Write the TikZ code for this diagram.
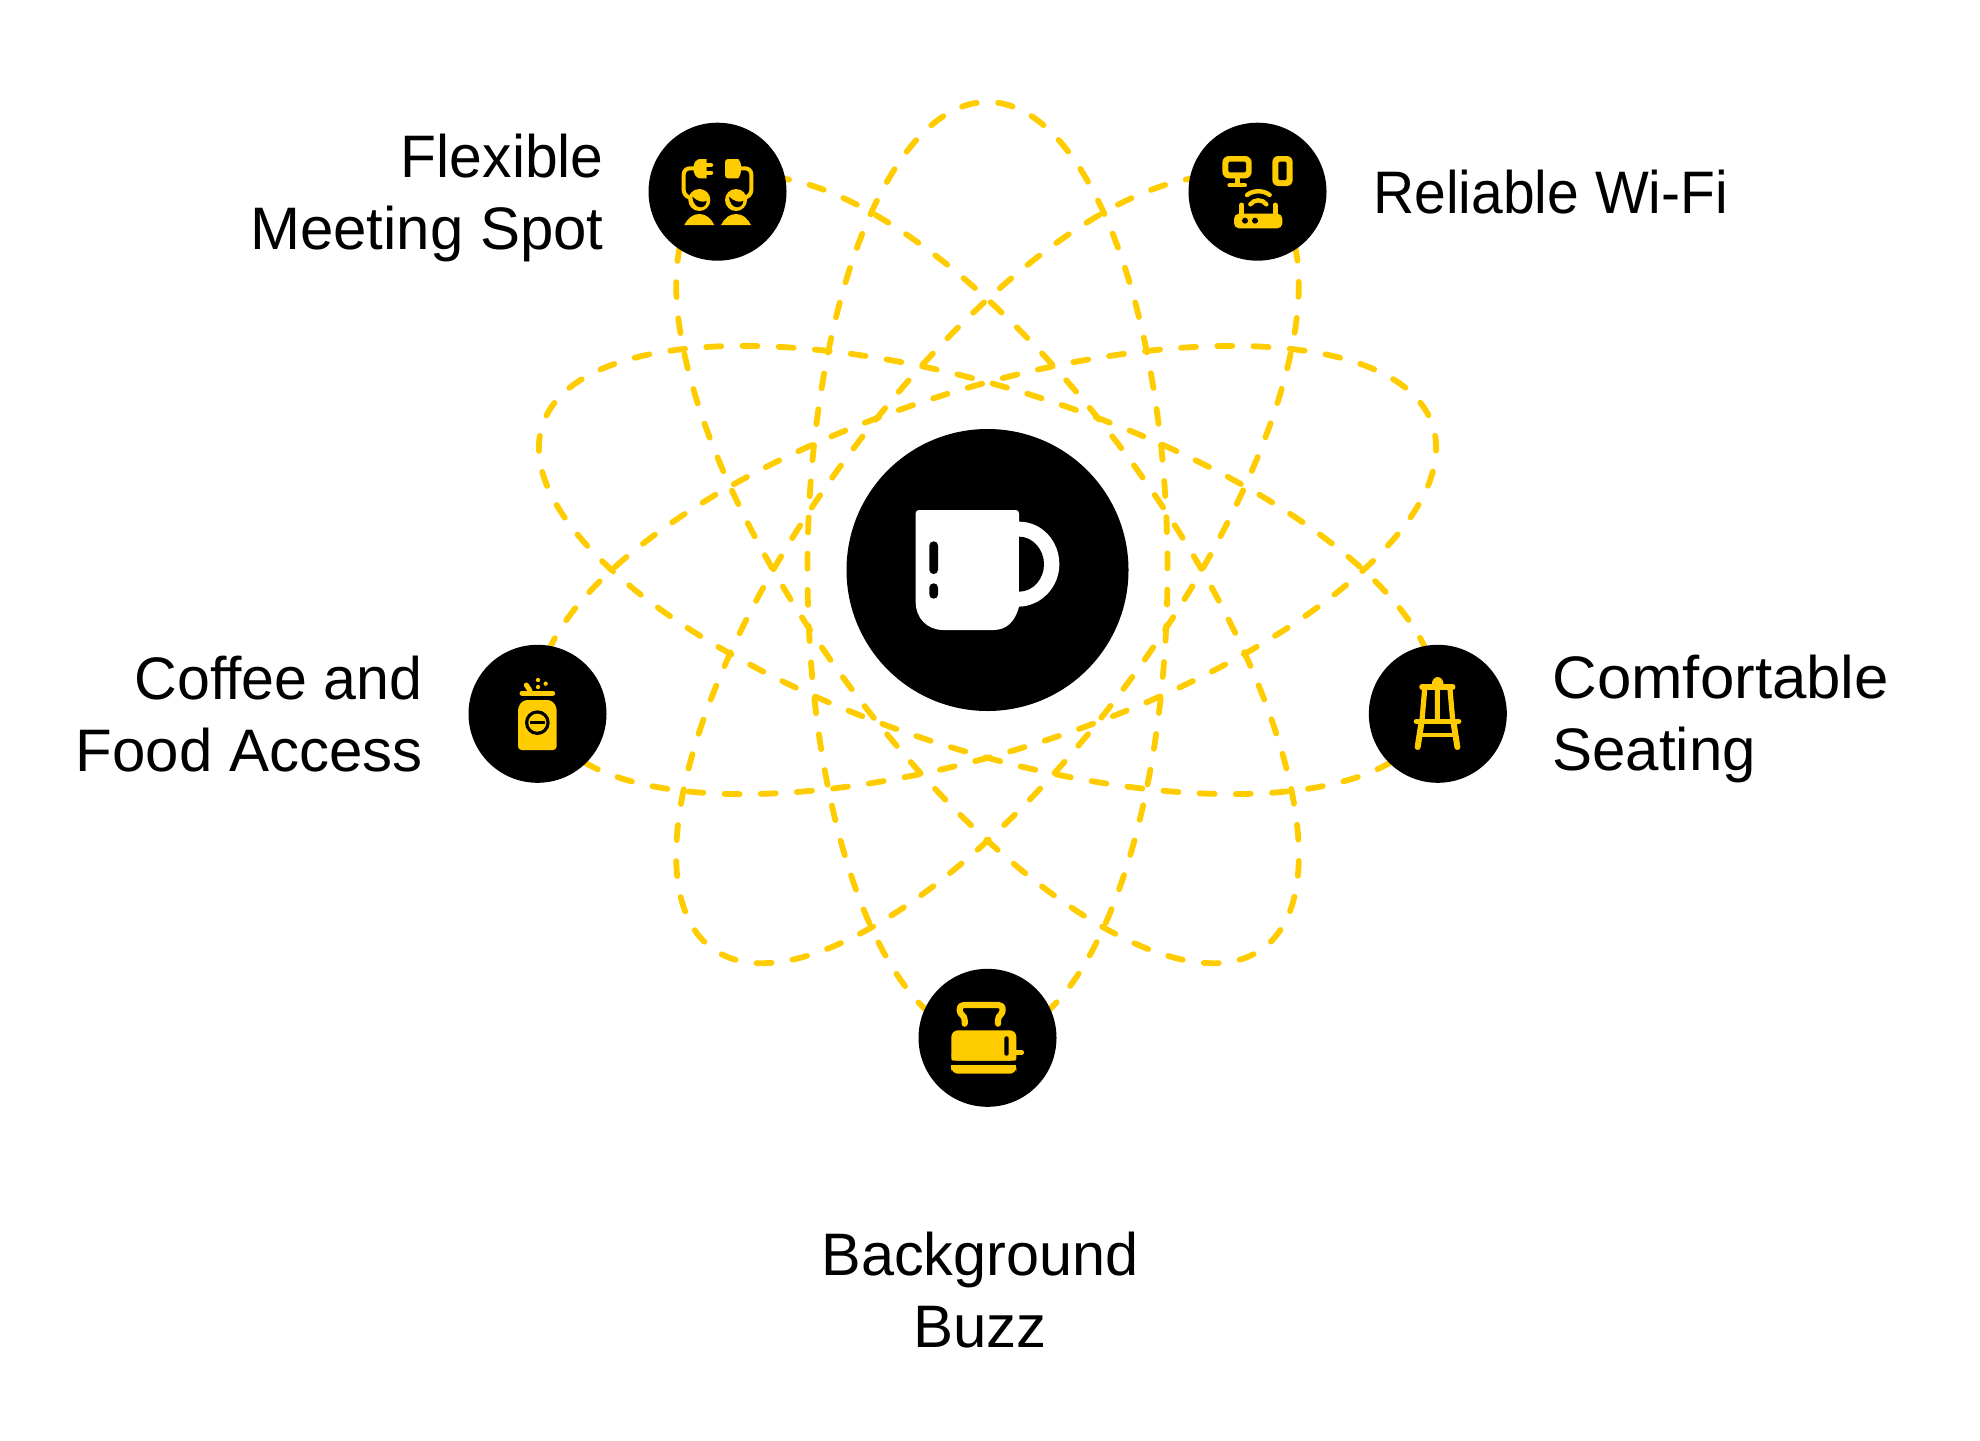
\documentclass[tikz,border=0pt]{standalone}
\usepackage{fontspec}
\setmainfont{Liberation Sans}
\definecolor{ylw}{HTML}{FFCC00}
\tikzset{
  x=0.5pt,y=-0.5pt,
  orbit/.style={draw=ylw,line width=2.9pt,dash pattern=on 7.5pt off 10.615pt,dash phase=12.81pt,line cap=round},
  hub/.style={circle,fill=black,inner sep=0pt,minimum size=69pt},
  bigHub/.style={circle,fill=black,inner sep=0pt,minimum size=141pt},
  lbl/.style={font=\fontsize{30}{36}\selectfont,inner sep=0pt},
  ic/.style={fill=ylw,draw=none},
  ln/.style={draw=ylw,line cap=round,line join=round,fill=none},
}
\begin{document}
\begin{tikzpicture}
\useasboundingbox (0,0) rectangle (1980,1440);
\fill[white] (0,0) rectangle (1980,1440);
\coordinate (c) at (987.5,570);
\foreach \r in {90,162,234,306,18}{
  \draw[orbit,rotate around={\r:(c)}] (c) ellipse (468 and 180);
}
\node[bigHub] (center) at (c) {};
\node[hub] (flex) at (717.5,191.7) {};
\node[hub] (wifi) at (1257.5,191.7) {};
\node[hub] (coffee) at (537.5,713.8) {};
\node[hub] (seat) at (1437.8,713.8) {};
\node[hub] (buzz) at (987.5,1037.8) {};
\node[lbl,anchor=east,align=right] (tflex) at (604,198) {\addfontfeature{FakeStretch=0.98}Flexible\\Meeting Spot};
\node[lbl,anchor=west] (twifi) at (1373,192) {\addfontfeature{FakeStretch=0.95}Reliable Wi-Fi};
\node[lbl,anchor=east,align=right] (tcoffee) at (423,714) {\addfontfeature{FakeStretch=0.985}Coffee and\\Food Access};
\node[lbl,anchor=west,align=left] (tseat) at (1552,719) {\addfontfeature{FakeStretch=1.03}Comfortable\\Seating};
\node[lbl,align=center] (tbuzz) at (980,1290) {\addfontfeature{FakeStretch=0.99}Background\\Buzz};
% mug
\begin{scope}[shift={(840,420)},scale=1/3]
\fill[white] (237,270) -- (527,270) .. controls (533,270) and (537,274) .. (537,280) -- (537,305)
  .. controls (605,305) and (658,362) .. (658,433) .. controls (658,500) and (605,558) .. (537,560)
  .. controls (525,605) and (500,630) .. (460,630) -- (310,630) .. controls (262,630) and (227,595) .. (227,545)
  -- (227,280) .. controls (227,274) and (231,270) .. (237,270) -- cycle;
\fill[black] (537,350) .. controls (580,350) and (612,390) .. (612,433) .. controls (612,476) and (580,515) .. (537,515) -- cycle;
\fill[black,rounded corners=2.1pt] (268,364) rectangle (294,462);
\fill[black,rounded corners=2.1pt] (268,490) rectangle (294,536);
\end{scope}
% flexible
\begin{scope}[shift={(640,115)},scale=1/3]
\fill[ic] (200,132) -- (180,132) .. controls (168,132) and (160,145) .. (160,160) .. controls (160,175) and (168,190) .. (180,190) -- (200,190) -- cycle;
\draw[ln,line width=1.9pt] (200,150) -- (214,150) (200,173) -- (214,173);
\fill[ic,rounded corners=1.5pt] (255,132) -- (285,132) .. controls (296,132) and (303,145) .. (303,160) .. controls (303,175) and (296,190) .. (285,190) -- (255,190) -- cycle;
\draw[ln,line width=2pt,rounded corners=3pt] (165,160) -- (131,160) -- (131,243) -- (150,248);
\draw[ln,line width=2pt,rounded corners=3pt] (300,160) -- (334,160) -- (334,243) -- (315,248);
\foreach \hx in {178,288}{
  \fill[ic] (\hx,255) circle (33);
  \fill[black] (\hx-21,245) .. controls (\hx-8,258) and (\hx+8,264) .. (\hx+22,258) .. controls (\hx+20,285) and (\hx-18,285) .. (\hx-21,245) -- cycle;
  \fill[ic] (\hx-45,330) .. controls (\hx-35,310) and (\hx-20,297) .. (\hx,297) .. controls (\hx+20,297) and (\hx+35,310) .. (\hx+45,330) -- cycle;
}
\end{scope}
% wifi
\begin{scope}[shift={(1180,115)},scale=1/3]
\fill[ic,rounded corners=3.3pt] (127,123) rectangle (215,190);
\fill[black,rounded corners=0.7pt] (145,140) rectangle (198,172);
\fill[ic] (164,188) rectangle (180,208);
\draw[ln,line width=2pt] (148,211) -- (195,211);
\fill[ic,rounded corners=3pt] (277,123) rectangle (338,213);
\fill[black,rounded corners=0.7pt] (295,140) rectangle (320,195);
\draw[ln,line width=2.2pt] (201,240) .. controls (220,225) and (250,225) .. (269,240);
\draw[ln,line width=2.2pt] (211,268) .. controls (222,252) and (248,252) .. (259,268);
\draw[ln,line width=2.5pt] (185,270) -- (185,300) (285,270) -- (285,300);
\fill[ic,rounded corners=2.5pt] (162,296) rectangle (307,340);
\fill[black] (195,317) circle (9) (225,317) circle (9);
\end{scope}
% coffee
\begin{scope}[shift={(460,640)},scale=1/3]
\fill[ic,rounded corners=1.8pt] (190,180) -- (274,180) -- (290,200) -- (290,330) -- (174,330) -- (174,200) -- cycle;
\draw[ln,line width=2.5pt] (186,159) -- (278,159);
\draw[ln,line width=2.5pt] (199,135) -- (210,152);
\fill[ic] (234,120) circle (6.5) (257,131) circle (6.5) (234,141) circle (6.5);
\fill[black] (232,248) circle (37);
\fill[ic] (232,248) circle (27);
\fill[black] (210,243) rectangle (255,253);
\end{scope}
% seat
\begin{scope}[shift={(1362,640)},scale=1/3]
\fill[ic] (209,135) .. controls (209,120) and (218,111) .. (227,111) .. controls (236,111) and (245,120) .. (245,135) -- cycle;
\draw[ln,line width=2.8pt] (180,141) -- (272,141);
\draw[ln,line width=2.7pt] (163,244) -- (290,244);
\draw[ln,line width=2.6pt,line cap=butt] (188,148) -- (180,240) (226,148) -- (226,240) (264,148) -- (272,240);
\draw[ln,line width=3pt] (178,250) -- (167,321) (275,250) -- (286,321);
\fill[ic] (172,278) rectangle (281,292);
\end{scope}
% toaster
\begin{scope}[shift={(912,965)},scale=1/3]
\draw[ln,line width=3.1pt] (158,176) -- (158,165) .. controls (158,150) and (143,150) .. (143,135) .. controls (143,124) and (148,120) .. (156,120) -- (259,120) .. controls (267,120) and (272,124) .. (272,135) .. controls (272,150) and (258,150) .. (258,165) -- (258,176);
\fill[ic,rounded corners=3.3pt] (118,196) rectangle (313,287);
\fill[ic,rounded corners=1pt] (118,265) rectangle (313,287);
\fill[black,rounded corners=1pt] (277,214) rectangle (290,272);
\draw[ln,line width=2.4pt] (310,262) -- (329,262);
\fill[ic,rounded corners=3.3pt] (118,300) rectangle (313,326);
\fill[ic] (118,300) rectangle (313,312);
\end{scope}
\end{tikzpicture}
\end{document}
